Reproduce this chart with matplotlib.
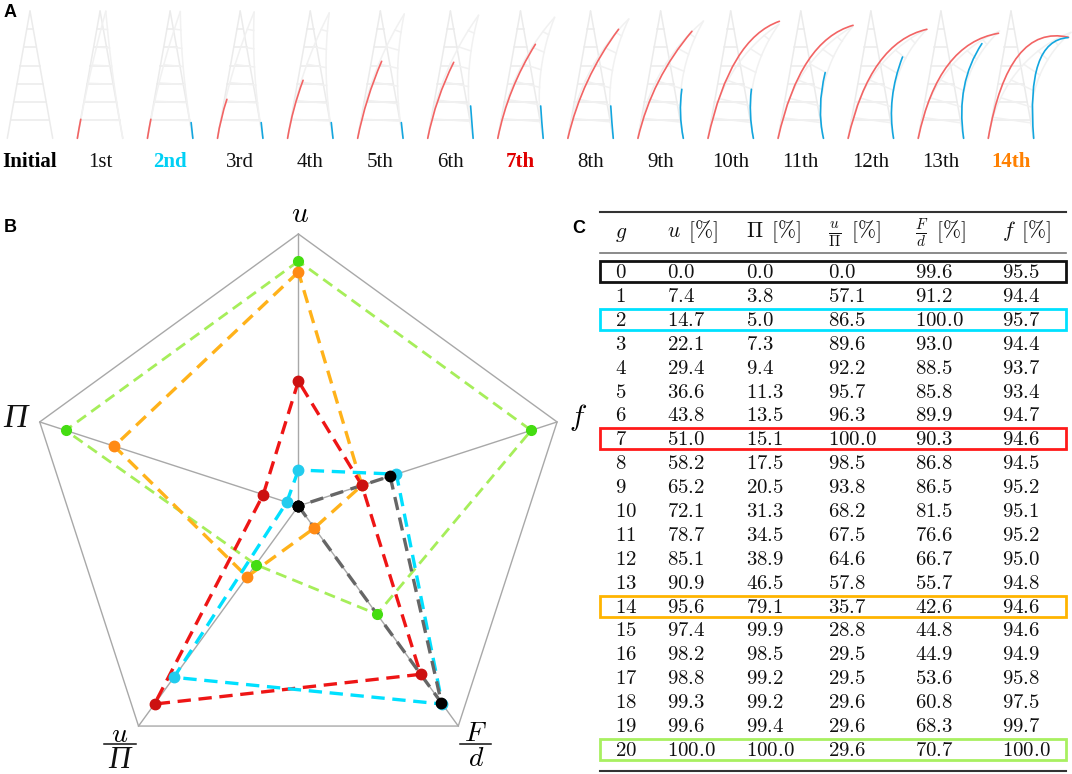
import numpy as np
import matplotlib
matplotlib.use('Agg')
import matplotlib.pyplot as plt
from matplotlib.path import Path
from matplotlib.patches import PathPatch, Rectangle

plt.rcParams['mathtext.fontset'] = 'cm'

# ---------------- data : panel A ----------------
stage_labels = ['Initial', '1st', '2nd', '3rd', '4th', '5th', '6th', '7th',
                '8th', '9th', '10th', '11th', '12th', '13th', '14th']
label_colors = {0: '#000000', 2: '#00d0f5', 7: '#e00000', 14: '#ff8000'}
# overall bending angle (rad) of the faint deformed lattice
bend_angle = [0, 0.09, 0.16, 0.22, 0.30, 0.38, 0.45, 0.55, 0.62, 0.70,
              0.80, 0.87, 0.95, 1.00, 1.03]
# red member: end point and Bezier control point, px relative to left foot
red_end_dx = [0, 3.4, 3.4, 9.4, 15.5, 24, 26, 37.6, 50.7, 54, 71.4, 75, 78.7, 80.3, 80.3]
red_end_h = [0, 19, 19, 39, 58, 77, 76, 94, 109, 107, 117, 113, 109, 105, 101]
red_ctl_dx = [0, 1.5, 1.5, 3, 5, 8, 8, 10, 14, 14, 22, 22, 22, 20, 20]
red_ctl_h = [0, 9.5, 9.5, 20, 30, 40, 40, 50, 60, 60, 100, 98, 96, 95, 115]
# blue member: relative to right foot
blue_end_dx = [0, 0, -1.7, -1.7, -1.7, -1.7, -2.5, -2.5, -2.5, -1.5, -2, 1.7, 9, 18.3, 34.4]
blue_end_h = [0, 0, 15.7, 15.7, 15.7, 15.7, 32.3, 32.3, 32.3, 49, 49, 65.7, 81.3, 94.7, 100.7]
blue_ctl_dx = [0, 0, -0.85, -0.85, -0.85, -0.85, -1.25, -1.5, -1.5, -5, -5, -7, -7, -8, -8]
blue_ctl_h = [0, 0, 7.85, 7.85, 7.85, 7.85, 16, 16, 16, 25, 25, 30, 40, 55, 98]

# ---------------- data : table C ----------------
g_vals = list(range(21))
u_pct = [0.0, 7.4, 14.7, 22.1, 29.4, 36.6, 43.8, 51.0, 58.2, 65.2, 72.1, 78.7, 85.1,
         90.9, 95.6, 97.4, 98.2, 98.8, 99.3, 99.6, 100.0]
pi_pct = [0.0, 3.8, 5.0, 7.3, 9.4, 11.3, 13.5, 15.1, 17.5, 20.5, 31.3, 34.5, 38.9,
          46.5, 79.1, 99.9, 98.5, 99.2, 99.2, 99.4, 100.0]
u_over_pi = [0.0, 57.1, 86.5, 89.6, 92.2, 95.7, 96.3, 100.0, 98.5, 93.8, 68.2, 67.5,
             64.6, 57.8, 35.7, 28.8, 29.5, 29.5, 29.6, 29.6, 29.6]
F_over_d = [99.6, 91.2, 100.0, 93.0, 88.5, 85.8, 89.9, 90.3, 86.8, 86.5, 81.5, 76.6,
            66.7, 55.7, 42.6, 44.8, 44.9, 53.6, 60.8, 68.3, 70.7]
f_pct = [95.5, 94.4, 95.7, 94.4, 93.7, 93.4, 94.7, 94.6, 94.5, 95.2, 95.1, 95.2, 95.0,
         94.8, 94.6, 94.6, 94.9, 95.8, 97.5, 99.7, 100.0]

highlight_rows = [0, 2, 7, 14, 20]
box_colors = ['#111111', '#00e1ff', '#ff1a1a', '#ffb400', '#a8f060']

# ---------------- data : radar B ----------------
radar_rows = [20, 14, 7, 2, 0]
radar_line_colors = ['#a6ee5a', '#ffb21a', '#ee1515', '#00e0ff', '#666666']
radar_dot_colors = ['#44dd11', '#ff8a14', '#cc1111', '#22ccee', '#000000']

# ---------------- figure ----------------
W, Hh = 1072, 774
fig = plt.figure(figsize=(W / 100, Hh / 100), dpi=100)
axP = fig.add_axes([0, 0, 1, 1])
axP.set_xlim(0, W)
axP.set_ylim(Hh, 0)
axP.axis('off')

# ---- panel A ----
base_y = 138.3
TH = 127.3
half_w = 22.7
pitch = 70.07
x0 = 30.0


def bent_point(xc, off, s, theta):
    if theta == 0:
        return xc + off, base_y - s
    k = theta / TH
    phi = k * s
    cx = (1 - np.cos(phi)) / k
    cy = np.sin(phi) / k
    x = xc + cx + off * np.cos(phi)
    yu = cy - off * np.sin(phi)
    return x, base_y - yu


def draw_lattice(xc, theta, col):
    s = np.linspace(0, TH, 40)
    w = half_w * (1 - s / TH)
    for sign in (-1, 1):
        xs, ys = bent_point(xc, sign * w, s, theta)
        axP.plot(xs, ys, color=col, lw=1.1, solid_capstyle='round', zorder=1)
    for kk in range(1, 7):
        sk = kk * TH / 7
        wk = half_w * (1 - sk / TH)
        xa, ya = bent_point(xc, -wk, sk, theta)
        xb, yb = bent_point(xc, wk, sk, theta)
        axP.plot([xa, xb], [ya, yb], color=col, lw=1.1, zorder=1)


def member(xs, dxc, hc, dxe, he, color):
    verts = [(xs, base_y), (xs + dxc, base_y - hc), (xs + dxe, base_y - he)]
    p = Path(verts, [Path.MOVETO, Path.CURVE3, Path.CURVE3])
    axP.add_patch(PathPatch(p, fill=False, edgecolor=color, lw=1.2, zorder=3,
                            capstyle='round'))


for i, lab in enumerate(stage_labels):
    xc = x0 + pitch * i
    draw_lattice(xc, 0, '#ebebeb')
    if i > 0:
        draw_lattice(xc, bend_angle[i], '#f1f1f1')
    if red_end_h[i] > 0:
        member(xc - half_w, red_ctl_dx[i], red_ctl_h[i], red_end_dx[i], red_end_h[i], '#f26464')
    if blue_end_h[i] > 0:
        member(xc + half_w, blue_ctl_dx[i], blue_ctl_h[i], blue_end_dx[i], blue_end_h[i], '#12a6df')
    bold = i in label_colors
    axP.text(xc, 162.3, lab, fontsize=15, family='Liberation Serif',
             weight='bold' if bold else 'normal', color=label_colors.get(i, '#111111'),
             ha='center', va='center')

# panel letters
for letter, (lx, ly) in zip('ABC', [(9.7, 12.5), (9.8, 228), (578.3, 228.3)]):
    axP.text(lx, ly, letter, fontsize=13, weight='bold', family='Liberation Sans',
             ha='center', va='center')

# ---- panel C : table ----
tx0, tx1 = 600, 1066
col_x = [615, 666.7, 745.7, 828.3, 915, 1001.7]
row_y0 = 271.7
row_dy = 23.88
axP.plot([tx0, tx1], [212, 212], color='#333333', lw=1.5)
axP.plot([tx0, tx1], [253.3, 253.3], color='#777777', lw=1.2)
axP.plot([tx0, tx1], [771, 771], color='#333333', lw=1.5)
headers = [r'$g$', r'$u\ \,[\%]$', r'$\Pi\ \,[\%]$', r'$\frac{u}{\Pi}\ \,[\%]$',
           r'$\frac{F}{d}\ \,[\%]$', r'$f\ \,[\%]$']
for x, h in zip(col_x, headers):
    axP.text(x, 237.5, h, fontsize=15.5, ha='left', va='baseline', color='#111111')
columns = [g_vals, u_pct, pi_pct, u_over_pi, F_over_d, f_pct]
for k in range(len(g_vals)):
    yc = row_y0 + k * row_dy
    for ci, (x, col) in enumerate(zip(col_x, columns)):
        s = str(col[k]) if ci == 0 else f'{col[k]:.1f}'
        axP.text(x, yc + 6.5, '$' + s + '$', fontsize=15, ha='left', va='baseline',
                 color='#111111')
for r, c in zip(highlight_rows, box_colors):
    yc = row_y0 + r * row_dy
    axP.add_patch(Rectangle((tx0, yc - 10.5), tx1 - tx0, 21, fill=False,
                            edgecolor=c, lw=2.0, zorder=4))

# ---- panel B : radar ----
R = 272.0
cxp, cyp = 298.4, 506.0
xl = (-1.09, 1.09)
yl = (-0.98, 1.20)
left = (cxp + xl[0] * R) / W
bottom = ((Hh - cyp) + yl[0] * R) / Hh
axR = fig.add_axes([left, bottom, (xl[1] - xl[0]) * R / W, (yl[1] - yl[0]) * R / Hh])
axR.set_xlim(*xl)
axR.set_ylim(*yl)
axR.axis('off')

angles = np.deg2rad([90, 162, 234, 306, 18])
for a in angles:
    axR.plot([0, np.cos(a)], [0, np.sin(a)], color='#a8a8a8', lw=1.0, zorder=1)
axR.plot(np.append(np.cos(angles), np.cos(angles[0])),
         np.append(np.sin(angles), np.sin(angles[0])), color='#a8a8a8', lw=1.0, zorder=1)

radar_cols = [u_pct, pi_pct, u_over_pi, F_over_d, f_pct]
rescale = [False, False, False, True, True]


def radial(ci, v):
    col = radar_cols[ci]
    if rescale[ci]:
        lo, hi = min(col), max(col)
        return 0.1 + 0.8 * (v - lo) / (hi - lo)
    return 0.9 * v / 100.0


for z, (row, lc, dc) in enumerate(zip(radar_rows, radar_line_colors, radar_dot_colors)):
    rr = np.array([radial(ci, radar_cols[ci][row]) for ci in range(5)])
    xs = rr * np.cos(angles)
    ys = rr * np.sin(angles)
    lw = 2.0 if row == 20 else 2.4
    axR.plot(np.append(xs, xs[0]), np.append(ys, ys[0]), color=lc, lw=lw,
             ls=(0, (4, 2.3)), zorder=2 + z)
    axR.plot(xs, ys, 'o', color=dc, ms=7.5 if row != 20 else 7, zorder=10 + z)

# axis labels
ital_pi = dict(family='Liberation Serif', style='italic', color='#111111')
axR.text(0.007, 1.075, r'$u$', fontsize=21, ha='center', va='center', clip_on=False)
axR.text(-1.04, 0.321, 'Π', fontsize=24, ha='center', va='center', clip_on=False, **ital_pi)
axR.text(1.028, 0.324, r'$f$', fontsize=21, ha='center', va='center', clip_on=False)
# u / Pi fraction
axR.text(-0.657, -0.838, r'$u$', fontsize=20, ha='center', va='center', clip_on=False)
axR.plot([-0.716, -0.598], [-0.876, -0.876], color='#111111', lw=1.1, clip_on=False)
axR.text(-0.660, -0.935, 'Π', fontsize=22, ha='center', va='center', clip_on=False, **ital_pi)
# F / d fraction
axR.text(0.652, -0.833, r'$F$', fontsize=20, ha='center', va='center', clip_on=False)
axR.plot([0.594, 0.708], [-0.876, -0.876], color='#111111', lw=1.1, clip_on=False)
axR.text(0.652, -0.928, r'$d$', fontsize=20, ha='center', va='center', clip_on=False)

fig.savefig('out.png', dpi=100)
